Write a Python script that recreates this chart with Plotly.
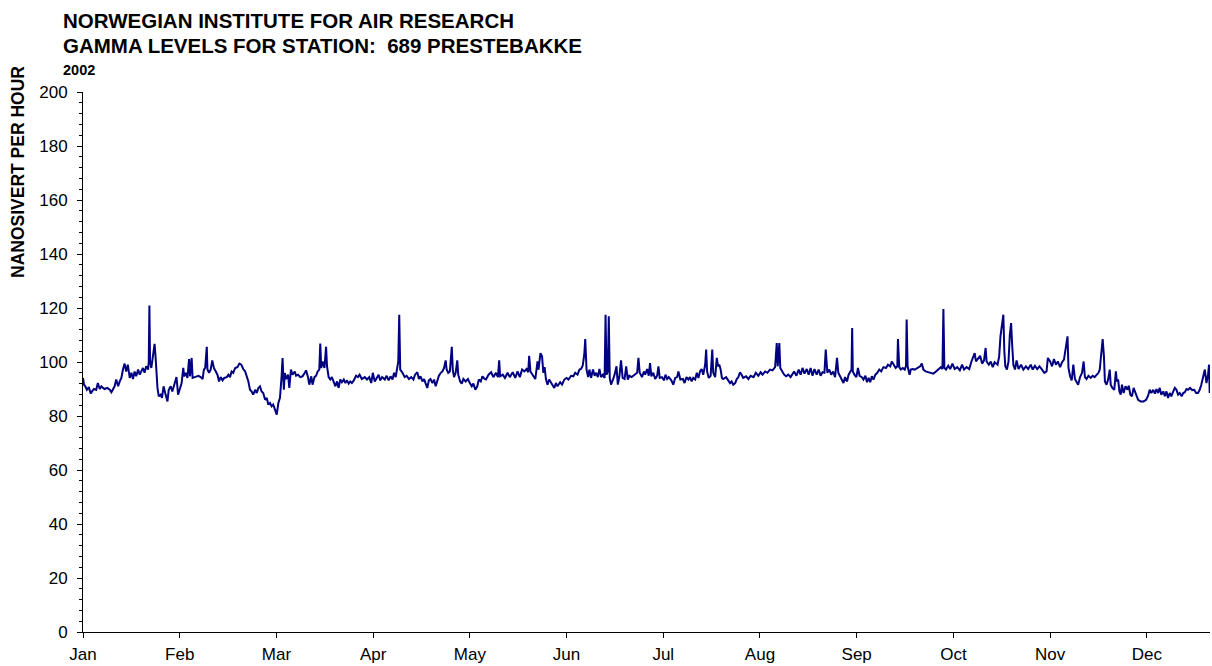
import plotly.graph_objects as go

# x positions in days on the chart's month axis (ticks every 30 days), values in nSv/h
days_1 = [0.0,0.3,0.7,1.2,1.8,2.4,2.8,3.4,4.1,4.6,5.2,5.7,6.2,6.7,7.5,8.3,8.8,9.3,9.8,10.3,10.9,11.4,11.9,12.4,12.9,13.4,13.9,14.5,15.0,15.5,16.0,16.5,17.1,17.6,18.1,18.6,19.1,19.6,20.2,20.4,20.6,20.8,21.2,21.7,22.2,22.5,22.7,23.1,23.5,24.1,24.5,25.0,25.5,26.2,26.6,27.2,27.7,28.4,29.0,29.5,30.0]
vals_1 = [94.1,91.6,91.0,89.7,90.7,88.3,89.1,90.0,89.7,92.2,90.0,91.0,90.4,90.0,90.4,89.7,88.8,89.7,91.0,93.5,91.0,92.8,94.1,97.2,99.4,96.5,99.0,94.1,96.0,93.7,96.5,94.7,97.2,95.3,96.5,97.8,96.0,98.4,97.2,100.2,120.9,100.2,97.8,102.1,106.7,102.1,96.0,90.4,87.3,87.9,86.7,91.0,88.5,85.4,89.7,91.0,89.1,91.6,94.4,87.9,89.7]

days_2 = [30.6,31.1,31.4,31.9,32.4,32.9,33.2,33.7,34.0,34.7,35.8,36.5,37.1,37.5,37.9,38.4,38.6,39.1,39.6,40.1,40.6,41.2,41.7,42.2,42.7,43.3,43.8,44.6,45.1,45.6,46.1,46.6,47.2,47.9,48.5,49.1,49.7,50.3,50.8,51.3,51.8,52.3,52.8,53.4,53.9,54.4,54.9,55.4,55.9,56.5,57.0,57.5,58.0,58.5,59.0,59.6,60.1,60.6,61.1,61.6,61.9]
vals_2 = [92.2,97.8,94.7,96.0,94.1,101.1,94.7,101.5,94.1,94.4,94.9,94.4,93.7,97.2,97.8,105.6,97.2,96.0,97.2,100.6,97.8,96.5,95.3,92.8,94.4,93.2,94.1,94.4,95.3,94.4,96.5,96.0,97.8,98.1,99.4,99.0,97.4,96.5,94.7,92.8,89.7,89.1,87.9,89.7,88.5,90.4,91.0,89.1,88.5,86.0,86.7,84.2,84.8,83.6,84.2,82.3,80.5,84.8,86.7,94.7,101.5]

days_3 = [62.3,62.6,63.0,63.6,64.0,64.5,65.0,65.7,66.1,66.7,67.4,68.1,68.8,69.2,69.8,70.2,70.8,71.2,71.8,72.3,72.8,73.3,73.6,73.9,74.3,74.9,75.4,75.7,76.2,76.7,77.2,77.8,78.3,78.8,79.3,79.8,80.3,80.9,81.4,81.9,82.4,82.9,83.4,84.0,84.7,85.3,85.8,86.5,87.4,88.1,88.8,89.4,89.9,90.5,91.2,91.7,92.2,92.8,93.6]
vals_3 = [89.7,95.9,93.7,95.3,90.4,97.2,95.3,96.5,94.9,95.3,94.4,94.7,96.0,96.9,94.4,91.6,94.7,91.6,94.4,94.9,96.5,97.2,106.8,97.8,100.2,97.8,105.6,98.4,94.4,93.5,94.4,92.8,91.0,92.8,90.4,93.5,92.5,93.5,92.2,93.2,92.0,92.8,92.2,93.2,94.9,94.4,95.3,93.7,94.4,93.5,94.4,92.2,96.0,92.8,94.1,95.3,93.2,94.4,93.5]

days_4 = [94.2,94.8,95.4,96.0,96.5,97.0,97.5,97.8,98.1,98.4,99.1,99.8,100.4,101.1,101.8,102.5,103.0,103.7,104.2,104.7,105.3,105.8,106.3,106.8,107.3,107.8,108.4,108.9,109.4,109.9,110.4,111.0,111.5,112.0,112.5,112.8,113.3,113.8,114.4,114.7,115.1,115.6,116.1,116.4,117.0,117.5,118.0,118.7,119.4,120.0,120.6,121.1,121.7,122.3,122.8,123.4,123.9,124.6]
vals_4 = [94.9,93.2,94.7,93.5,96.0,94.4,97.2,100.2,117.5,97.2,96.0,94.4,94.9,93.7,94.4,93.5,95.3,96.2,93.7,94.7,92.8,93.7,92.0,90.4,93.2,93.7,92.2,93.5,91.0,93.2,94.9,96.0,96.5,97.8,100.6,97.2,96.0,96.5,105.6,97.2,94.4,96.0,100.6,95.3,92.8,92.0,93.7,92.8,93.7,92.2,91.0,92.0,89.7,91.0,93.5,92.8,94.7,93.7]

days_5 = [125.0,125.8,126.6,127.3,128.1,128.7,129.1,129.4,130.2,130.9,131.7,132.4,133.3,134.1,134.8,135.5,136.2,136.9,137.6,138.1,138.4,138.8,139.5,140.3,141.0,141.3,141.9,142.4,142.8,143.2,143.6,144.1,144.6,145.2,145.7,146.2,146.7,147.2,148.0,148.6,149.3,150.0,150.6,151.4,152.1,152.7,153.4,154.0,154.5,155.0,155.5,155.8,156.2]
vals_5 = [93.5,95.3,96.2,94.4,96.0,94.4,100.6,94.7,95.3,94.1,96.0,94.4,96.2,94.1,96.5,94.4,97.2,96.5,97.4,96.2,102.3,96.5,95.3,93.7,100.2,97.2,103.3,102.1,96.0,98.1,93.7,91.6,93.5,92.2,91.6,90.4,92.2,91.0,92.5,91.6,93.5,94.1,93.5,94.9,94.7,96.0,95.3,97.2,97.4,98.6,102.7,108.5,97.2]

days_6 = [156.7,157.1,157.6,158.2,158.7,159.2,159.7,160.2,160.7,161.3,161.8,162.1,162.4,162.8,163.1,163.4,163.8,164.4,164.9,165.5,165.9,166.4,166.9,167.4,168.0,168.5,169.0,169.5,170.2,171.1,171.9,172.3,172.7,173.4,174.0,174.4,175.0,175.5,175.9,176.3,176.9,177.5,178.1,178.5,178.9,179.6,180.2,180.7,181.2,181.7,182.5,183.1,183.7,184.3,184.7,185.3,186.1,186.6,187.2,187.8]
vals_6 = [94.4,97.2,94.1,97.2,94.9,96.0,94.4,97.4,94.4,95.3,94.1,117.5,95.3,96.5,116.9,94.1,91.6,93.5,95.3,98.4,91.6,94.7,100.6,94.1,93.7,98.4,93.5,94.9,94.4,95.3,96.0,101.5,96.0,94.4,96.5,95.3,97.4,94.9,99.6,94.7,96.0,93.7,94.9,98.4,94.1,94.4,93.2,95.3,93.7,94.4,93.2,91.6,94.1,94.4,96.5,93.5,93.7,92.2,94.4,93.5]

days_7 = [188.3,188.8,189.3,189.9,190.4,190.9,191.4,191.9,192.4,193.0,193.3,193.6,194.1,194.7,195.2,195.5,196.1,196.6,197.0,197.4,197.8,198.2,198.6,199.5,200.1,200.7,201.2,201.7,202.3,202.8,203.3,203.8,204.3,204.8,205.7,206.4,207.1,208.0,208.7,209.5,210.2,210.8,211.6,212.3,213.1,213.9,214.7,215.2,215.5,216.0,216.3,216.8,217.5,218.1,218.8,219.5]
vals_7 = [94.4,92.8,94.1,93.5,96.0,94.1,96.5,97.4,95.3,99.0,104.6,96.5,94.1,94.9,104.6,96.0,94.4,101.5,98.4,99.0,97.2,94.1,93.7,94.4,93.2,92.2,92.8,91.6,92.2,93.7,94.4,96.2,95.3,94.1,94.7,93.7,94.9,94.4,96.0,94.9,96.2,95.3,96.5,96.0,97.2,96.9,98.1,107.0,98.4,107.0,97.8,96.5,95.3,94.7,95.3,94.4]

days_8 = [219.9,220.6,221.3,222.0,222.6,223.2,223.8,224.5,225.1,225.7,226.3,226.9,227.6,228.2,228.8,229.4,230.0,230.4,230.9,231.5,232.1,232.7,233.3,233.9,234.3,234.8,235.4,235.9,236.4,237.0,237.5,238.0,238.4,238.6,238.8,239.3,239.9,240.4,240.9,241.6,242.1,242.7,243.2,243.7,244.2,244.7,245.2,245.8,246.4,247.0,247.6,248.3,249.1,249.7,250.4,250.9,251.5]
vals_8 = [95.3,96.5,94.9,97.2,95.3,97.8,95.7,97.4,95.3,97.8,94.9,97.4,95.3,97.2,94.9,96.2,96.0,104.6,96.0,97.2,95.3,96.5,94.4,101.5,96.0,94.9,93.5,92.2,94.4,92.8,95.3,96.2,97.2,112.6,96.5,95.3,94.4,97.8,94.9,94.4,93.5,94.9,92.5,94.1,92.5,94.7,93.5,95.3,96.0,97.2,96.5,98.1,97.8,99.0,98.4,100.2,99.0]

days_9 = [252.1,252.6,252.8,253.2,253.7,254.3,254.9,255.3,255.5,255.8,256.4,256.8,257.3,258.0,258.8,259.7,260.2,260.7,261.4,262.1,263.0,263.8,264.6,265.4,266.1,266.6,266.9,267.2,267.7,268.4,269.0,269.7,270.4,271.2,272.0,272.7,273.3,274.1,274.9,275.6,276.2,276.6,277.0,277.7,278.3,278.9,279.5,280.0,280.3,281.0,281.6,282.2,282.8]
vals_9 = [97.8,98.4,108.5,98.1,97.2,97.8,97.2,98.6,115.7,98.4,95.3,97.2,97.4,97.2,97.8,98.4,99.4,97.2,96.5,96.2,96.0,95.7,96.5,97.2,98.1,97.4,119.6,97.8,97.2,98.6,97.4,99.4,97.4,98.1,96.9,99.0,97.2,98.1,97.4,100.2,102.1,103.3,100.2,101.5,102.3,99.4,100.6,105.2,100.2,99.0,100.2,98.1,99.9]

days_10 = [283.7,284.2,284.6,285.1,285.5,285.8,286.1,286.6,287.1,287.5,287.9,288.2,288.6,289.1,289.6,290.2,291.0,291.7,292.5,293.2,294.0,294.6,295.3,296.0,296.7,297.5,298.2,298.9,299.3,300.0,300.6,301.2,301.8,302.4,303.1,303.7,304.3,304.7,305.1,305.4,305.7,306.2,306.7,307.2,307.7,308.2,308.7,309.3,309.9,310.4,310.8,311.3,311.9,312.6,313.2,313.8,314.4]
vals_10 = [99.0,102.1,109.5,114.4,117.5,104.0,98.4,97.2,100.2,110.1,114.4,107.0,99.0,97.2,100.6,97.4,99.0,97.2,98.4,97.4,99.0,97.2,98.6,97.4,98.4,97.2,96.0,96.5,101.5,100.2,98.4,101.1,99.0,100.2,98.1,99.9,100.9,104.0,107.0,109.5,97.8,94.7,93.2,99.0,93.7,92.8,91.6,94.4,96.0,100.2,94.4,93.7,94.9,94.1,94.9,94.4,95.3]

days_11 = [315.0,315.4,315.9,316.3,316.7,317.0,317.5,318.0,318.5,318.8,319.3,319.9,320.4,320.7,321.1,321.5,321.9,322.3,322.8,323.4,324.0,324.4,324.9,325.4,325.9,326.3,326.8,327.3,328.1,329.0,329.8,330.4,330.9,331.4,332.0,332.5,333.0,333.5,334.0,334.5,335.1,335.6,336.1,336.6,337.1,337.6,338.2,338.7,339.2,339.7,340.2,340.8,341.3,341.8,342.3,342.8,343.4,344.1,344.7,345.3,345.9,346.4,346.9,347.5,348.0,348.5,349.0,349.3,349.5]
vals_11 = [96.0,97.2,103.3,108.5,102.1,92.8,91.6,93.5,97.2,91.6,90.4,89.7,96.5,92.8,93.5,89.1,87.9,91.6,88.5,91.0,89.7,91.2,87.9,87.3,90.4,89.1,87.3,86.0,85.4,85.4,86.0,87.5,89.7,88.5,89.7,88.3,90.0,88.5,90.4,87.9,89.1,87.3,89.1,86.7,88.5,87.3,89.1,90.4,89.7,87.9,88.5,87.3,88.5,88.8,90.0,89.7,90.4,89.6,89.7,88.5,88.5,89.7,91.6,94.4,97.2,92.2,95.3,99.0,88.5]

days = days_1 + days_2 + days_3 + days_4 + days_5 + days_6 + days_7 + days_8 + days_9 + days_10 + days_11
vals = vals_1 + vals_2 + vals_3 + vals_4 + vals_5 + vals_6 + vals_7 + vals_8 + vals_9 + vals_10 + vals_11

months = ["Jan", "Feb", "Mar", "Apr", "May", "Jun", "Jul", "Aug", "Sep", "Oct", "Nov", "Dec"]
month_pos = [30 * i for i in range(12)]
y_ticks = list(range(0, 201, 20))

FONT = "Liberation Sans, Arial, sans-serif"

fig = go.Figure()
fig.add_trace(go.Scatter(x=days, y=vals, mode="lines",
                         line=dict(color="#000080", width=2), showlegend=False))

fig.update_layout(
    width=1212, height=666,
    margin=dict(l=83, r=2, t=92, b=34),
    paper_bgcolor="white", plot_bgcolor="white",
    font=dict(family=FONT, size=18, color="black"),
    xaxis=dict(range=[0, 349.6], tickvals=month_pos, ticktext=months,
               showgrid=False, zeroline=False, showline=True, linecolor="black", linewidth=1,
               ticks="outside", ticklen=5, tickcolor="black", tickfont=dict(size=17),
               ticklabelstandoff=2),
    yaxis=dict(range=[0, 200], tickvals=y_ticks,
               showgrid=False, zeroline=False, showline=True, linecolor="black", linewidth=1,
               ticks="outside", ticklen=5, tickcolor="black", tickfont=dict(size=17),
               ticklabelstandoff=6,
               minor=dict(dtick=4, ticks="outside", ticklen=3, tickcolor="black")),
    annotations=[
        dict(text="<b>NORWEGIAN INSTITUTE FOR AIR RESEARCH</b>", xref="paper", yref="paper",
             x=(61 - 83) / 1127, y=(632 - 20) / 540, xanchor="left", yanchor="middle", showarrow=False,
             font=dict(size=20.5, family=FONT)),
        dict(text="<b>GAMMA LEVELS FOR STATION:  689 PRESTEBAKKE</b>", xref="paper", yref="paper",
             x=(61 - 83) / 1127, y=(632 - 46) / 540, xanchor="left", yanchor="middle", showarrow=False,
             font=dict(size=20.5, family=FONT)),
        dict(text="<b>2002</b>", xref="paper", yref="paper",
             x=(61 - 83) / 1127, y=(632 - 70) / 540, xanchor="left", yanchor="middle", showarrow=False,
             font=dict(size=14.5, family=FONT)),
        dict(text="<b>NANOSIVERT PER HOUR</b>", xref="paper", yref="paper",
             x=(18 - 83) / 1127, y=(632 - 172) / 540, xanchor="center", yanchor="middle",
             textangle=-90, showarrow=False, font=dict(size=17.5, family=FONT)),
    ],
)

fig.write_html("out.html", config={"displayModeBar": False},
               post_script="document.body.style.margin='0';document.body.style.overflow='hidden';")
